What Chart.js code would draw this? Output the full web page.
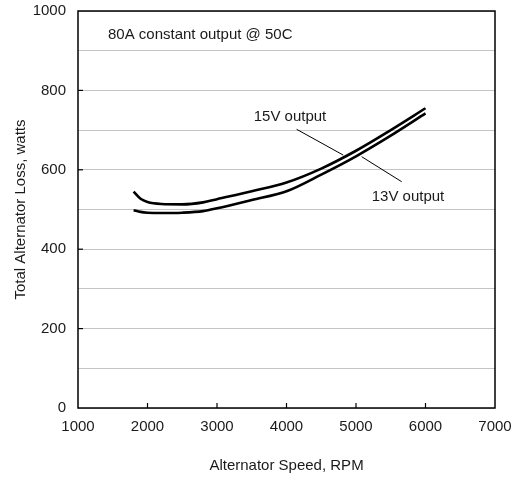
<!DOCTYPE html>
<html>
<head>
<meta charset="utf-8">
<script src="https://cdn.jsdelivr.net/npm/chart.js@4/dist/chart.umd.min.js"></script>
<style>
  html, body { margin: 0; padding: 0; background: #fff; }
  #wrap { width: 516px; height: 481px; }
</style>
</head>
<body>
<div id="wrap"><canvas id="myChart" width="516" height="481"></canvas></div>
<script>
// data
var rpm = [1800, 1900, 2000, 2200, 2500, 2800, 3000, 3500, 4000, 4500, 5000, 5500, 6000];
var loss15V = [545, 527, 519, 514, 513, 518, 526, 546, 568, 603, 648, 700, 755];
var loss13V = [498, 494, 492, 491, 492, 496, 503, 524, 546, 588, 634, 686, 742];
var xTicks = [1000, 2000, 3000, 4000, 5000, 6000, 7000];
var yTicks = [0, 200, 400, 600, 800, 1000];

var txtColor = "#1a1a1a";
var fontFam = "'Liberation Sans', Arial, sans-serif";

function pts(xs, ys) {
  return xs.map(function (x, i) { return { x: x, y: ys[i] }; });
}

// notes on the plot, in data units
var notes = [
  { text: "80A constant output @ 50C", x: 1431, y: 940, align: "left" },
  { text: "15V output", x: 4050, y: 733, align: "center", from: [4146, 702], to: [4817, 637] },
  { text: "13V output", x: 5748, y: 532, align: "center", from: [5657, 570], to: [5082, 633] }
];

const boxPlugin = {
  id: "boxPlugin",
  afterDraw(chart) {
    const ctx = chart.ctx;
    const a = chart.chartArea;
    const xs = chart.scales.x, ys = chart.scales.y;
    ctx.save();
    // small inward tick marks
    ctx.strokeStyle = "#000";
    ctx.lineWidth = 1.2;
    xTicks.slice(1, -1).forEach(function (v) {
      const px = xs.getPixelForValue(v);
      ctx.beginPath(); ctx.moveTo(px, a.bottom); ctx.lineTo(px, a.bottom - 5); ctx.stroke();
    });
    yTicks.slice(1, -1).forEach(function (v) {
      const py = ys.getPixelForValue(v);
      ctx.beginPath(); ctx.moveTo(a.left, py); ctx.lineTo(a.left + 5, py); ctx.stroke();
    });
    // frame
    ctx.lineWidth = 1.5;
    ctx.strokeRect(a.left, a.top, a.right - a.left, a.bottom - a.top);
    // notes
    ctx.font = "15px " + fontFam;
    ctx.fillStyle = txtColor;
    ctx.textBaseline = "middle";
    notes.forEach(function (n) {
      ctx.textAlign = n.align;
      ctx.fillText(n.text, xs.getPixelForValue(n.x), ys.getPixelForValue(n.y));
      if (n.from) {
        ctx.lineWidth = 1;
        ctx.beginPath();
        ctx.moveTo(xs.getPixelForValue(n.from[0]), ys.getPixelForValue(n.from[1]));
        ctx.lineTo(xs.getPixelForValue(n.to[0]), ys.getPixelForValue(n.to[1]));
        ctx.stroke();
      }
    });
    ctx.restore();
  }
};

const data = {
  datasets: [
    {
      label: "15V output",
      data: pts(rpm, loss15V),
      borderColor: "#000",
      borderWidth: 2.6,
      pointRadius: 0,
      cubicInterpolationMode: "monotone",
      fill: false
    },
    {
      label: "13V output",
      data: pts(rpm, loss13V),
      borderColor: "#000",
      borderWidth: 2.6,
      pointRadius: 0,
      cubicInterpolationMode: "monotone",
      fill: false
    }
  ]
};

const config = {
  type: "line",
  data,
  options: {
    responsive: false,
    animation: false,
    layout: { padding: { left: 0, right: 21, top: 11, bottom: 0 } },
    plugins: { legend: { display: false }, tooltip: { enabled: false } },
    scales: {
      x: {
        type: "linear",
        min: 1000,
        max: 7000,
        afterFit: function (s) {
          s.height = 73;
          s.paddingLeft = 0; s.paddingRight = 0;
        },
        afterBuildTicks: function (s) { s.ticks = xTicks.map(function (v) { return { value: v }; }); },
        grid: { display: false, drawTicks: false },
        border: { display: false },
        ticks: {
          color: txtColor,
          font: { size: 15, family: fontFam },
          padding: 10,
          maxRotation: 0,
          callback: function (v) { return String(v); }
        },
        title: {
          display: true,
          text: "Alternator Speed, RPM",
          color: txtColor,
          font: { size: 15, family: fontFam },
          padding: { top: 0, bottom: 6 }
        }
      },
      y: {
        min: 0,
        max: 1000,
        afterFit: function (s) {
          s.width = 78;
          s.paddingTop = 0; s.paddingBottom = 0;
        },
        grid: { color: "#c4c4c4", lineWidth: 1, drawTicks: false },
        border: { display: false },
        ticks: {
          stepSize: 100,
          color: txtColor,
          font: { size: 15, family: fontFam },
          padding: 12,
          callback: function (v) { return yTicks.indexOf(v) >= 0 ? String(v) : ""; }
        },
        title: {
          display: true,
          text: "Total Alternator Loss, watts",
          color: txtColor,
          font: { size: 15, family: fontFam },
          padding: { top: 12, bottom: 0 }
        }
      }
    }
  },
  plugins: [boxPlugin]
};

var myChart = new Chart(document.getElementById("myChart"), config);
</script>
</body>
</html>
